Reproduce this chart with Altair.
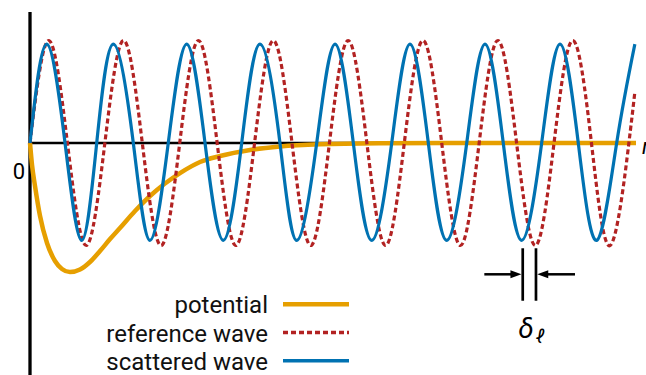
import altair as alt
import pandas as pd

# x in units of the reference wavelength, y in units of the reference-wave amplitude
ref_x = [0.00, 0.25, 0.50, 0.75, 1.00, 1.25, 1.50, 1.75, 2.00, 2.25, 2.50, 2.75,
         3.00, 3.25, 3.50, 3.75, 4.00, 4.25, 4.50, 4.75, 5.00, 5.25, 5.50, 5.75,
         6.00, 6.25, 6.50, 6.75, 7.00, 7.25, 7.50, 7.75, 8.00, 8.08]
ref_y = [0, 1, 0, -1, 0, 1, 0, -1, 0, 1, 0, -1,
         0, 1, 0, -1, 0, 1, 0, -1, 0, 1, 0, -1,
         0, 1, 0, -1, 0, 1, 0, -1, 0, 0.5]

sc_x = [0.000, 0.223, 0.468, 0.691, 0.891, 1.113, 1.380, 1.603, 1.847, 2.093,
        2.338, 2.582, 2.828, 3.072, 3.339, 3.563, 3.830, 4.075, 4.319, 4.565,
        4.832, 5.076, 5.321, 5.566, 5.834, 6.078, 6.322, 6.568, 6.835, 7.080,
        7.324, 7.570, 7.837, 8.080]
sc_y = [0, 0.965, 0, -0.95, 0, 0.965, 0, -0.95, 0, 0.965,
        0, -0.95, 0, 0.965, 0, -0.95, 0, 0.965, 0, -0.95,
        0, 0.965, 0, -0.95, 0, 0.965, 0, -0.95, 0, 0.965,
        0, -0.95, 0, 0.965]

pot_x = [0.000, 0.027, 0.067, 0.134, 0.227, 0.334, 0.427, 0.534, 0.668, 0.801,
         0.935, 1.069, 1.202, 1.403, 1.603, 1.803, 2.004, 2.271, 2.538, 2.939,
         3.340, 3.874, 4.675, 5.611, 6.500, 7.300, 8.095]
pot_y = [0.000, -0.215, -0.420, -0.712, -0.976, -1.151, -1.229, -1.259, -1.234, -1.161,
         -1.054, -0.937, -0.829, -0.663, -0.517, -0.395, -0.293, -0.185, -0.127, -0.068,
         -0.034, -0.013, -0.003, 0.000, 0.000, 0.000, 0.000]

legend_labels = ["potential", "reference wave", "scattered wave"]
colors = {"potential": "#E69F00", "reference wave": "#B22222", "scattered wave": "#0072B2"}

# phase shift markers: trough of scattered wave and of reference wave
delta_x = [6.582, 6.759]

X = alt.Scale(domain=[-0.4008, 8.2287], nice=False, zero=False)
Y = alt.Scale(domain=[-2.2634, 1.3951], nice=False, zero=False)


def xq(f):
    return alt.X(f, type="quantitative", scale=X, axis=None)


def yq(f):
    return alt.Y(f, type="quantitative", scale=Y, axis=None)


layers = []

# axes
vaxis = pd.DataFrame({"x": [0.0], "y": [1.278], "y2": [-2.2634]})
layers.append(alt.Chart(vaxis).mark_rule(color="black", strokeWidth=3.3).encode(
    x=xq("x"), y=yq("y"), y2="y2"))
haxis = pd.DataFrame({"x": [0.0], "x2": [8.095], "y": [0.0]})
layers.append(alt.Chart(haxis).mark_rule(color="black", strokeWidth=2.7).encode(
    x=xq("x"), x2="x2", y=yq("y")))

pot = pd.DataFrame({"x": pot_x, "y": pot_y})
layers.append(alt.Chart(pot).mark_line(color=colors["potential"], strokeWidth=4.5,
                                       interpolate="monotone").encode(x=xq("x"), y=yq("y")))
ref = pd.DataFrame({"x": ref_x, "y": ref_y})
layers.append(alt.Chart(ref).mark_line(color=colors["reference wave"], strokeWidth=3.2,
                                       strokeDash=[5, 3], interpolate="natural").encode(
    x=xq("x"), y=yq("y")))
sc = pd.DataFrame({"x": sc_x, "y": sc_y})
layers.append(alt.Chart(sc).mark_line(color=colors["scattered wave"], strokeWidth=3.2,
                                      interpolate="natural").encode(x=xq("x"), y=yq("y")))

# delta annotation
bars = pd.DataFrame({"x": delta_x, "y": [-1.027, -1.027], "y2": [-1.539, -1.539]})
layers.append(alt.Chart(bars).mark_rule(color="black", strokeWidth=2.7).encode(
    x=xq("x"), y=yq("y"), y2="y2"))
shafts = pd.DataFrame({"x": [6.069, 6.87], "x2": [6.47, 7.28], "y": [-1.281, -1.281]})
layers.append(alt.Chart(shafts).mark_rule(color="black", strokeWidth=2.5).encode(
    x=xq("x"), x2="x2", y=yq("y")))
head_r = pd.DataFrame({"x": [6.565], "y": [-1.281]})
layers.append(alt.Chart(head_r).mark_point(shape="M0,0 L-1,-0.36 L-1,0.36 Z", size=484,
                                           filled=True, color="black", opacity=1).encode(
    x=xq("x"), y=yq("y")))
head_l = pd.DataFrame({"x": [6.776], "y": [-1.281]})
layers.append(alt.Chart(head_l).mark_point(shape="M0,0 L1,-0.36 L1,0.36 Z", size=484,
                                           filled=True, color="black", opacity=1).encode(
    x=xq("x"), y=yq("y")))

one = pd.DataFrame({"t": ["δ"]})
layers.append(alt.Chart(one).mark_text(font="Roboto", fontSize=28, fontStyle="italic",
                                       align="center", baseline="alphabetic", color="black").encode(
    x=alt.value(526), y=alt.value(338), text="t:N"))
one2 = pd.DataFrame({"t": ["ℓ"]})
layers.append(alt.Chart(one2).mark_text(font="Roboto", fontSize=19, fontStyle="italic",
                                        align="center", baseline="alphabetic", color="black").encode(
    x=alt.value(540), y=alt.value(343), text="t:N"))

zero = pd.DataFrame({"t": ["0"]})
layers.append(alt.Chart(zero).mark_text(font="Roboto", fontSize=22, align="center",
                                        baseline="alphabetic", color="black").encode(
    x=alt.value(19), y=alt.value(179), text="t:N"))
rlab = pd.DataFrame({"t": ["r"]})
layers.append(alt.Chart(rlab).mark_text(font="Roboto", fontSize=22, fontStyle="italic",
                                        align="left", baseline="alphabetic", color="black").encode(
    x=alt.value(642), y=alt.value(154), text="t:N"))

# legend
for i, lab in enumerate(legend_labels):
    d = pd.DataFrame({"label": [lab]})
    ly = 304.3 + 28.2 * i
    rule_kw = dict(color=colors[lab], strokeWidth=4.5 if i == 0 else 3.5)
    if lab == "reference wave":
        rule_kw["strokeDash"] = [5, 3]
    layers.append(alt.Chart(d).mark_rule(**rule_kw).encode(
        x=alt.value(283), x2=alt.value(349), y=alt.value(ly)))
    layers.append(alt.Chart(d).mark_text(font="Roboto", fontSize=24, align="right",
                                         baseline="alphabetic", color="#111111").encode(
        x=alt.value(268), y=alt.value(313 + 28.5 * i), text="label:N"))

chart = alt.layer(*layers).properties(
    width=646, height=375, padding=0, autosize="none"
).configure_view(stroke=None)

chart.save("out.html", embed_options={"renderer": "svg", "actions": False})
